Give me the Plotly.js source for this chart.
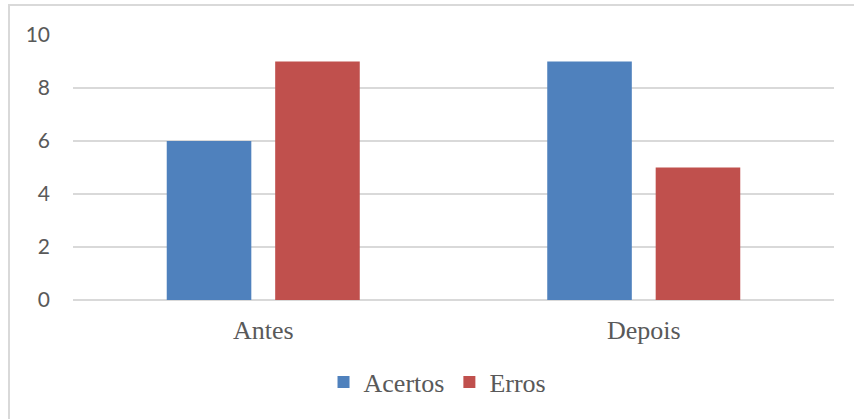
<!DOCTYPE html>
<html><head><meta charset="utf-8">
<script src="https://cdn.plot.ly/plotly-3.0.1.min.js"></script>
<style>
html,body{margin:0;padding:0;background:#fff;}
#wrap{position:absolute;left:0;top:0;width:854px;height:419px;}
#frame{position:absolute;left:8px;top:4px;width:846px;height:415px;border-left:2px solid #D9D9D9;border-top:2px solid #D9D9D9;box-sizing:border-box;pointer-events:none;}
#chart{position:absolute;left:0;top:0;width:854px;height:419px;}
</style></head>
<body>
<div id="wrap"><div id="chart"></div><div id="frame"></div></div>
<script>
const categories = ["Antes", "Depois"];
const acertos = [6, 9];
const erros = [9, 5];
const seriesNames = ["Acertos", "Erros"];
const yTicks = [0, 2, 4, 6, 8, 10];

const traces = [
  {type:"bar", name:seriesNames[0], x:categories, y:acertos, marker:{color:"#4F81BD"}},
  {type:"bar", name:seriesNames[1], x:categories, y:erros, marker:{color:"#C0504D"}}
];
const layout = {
  width:854, height:419,
  margin:{l:73, r:20, t:35, b:119, pad:0},
  paper_bgcolor:"rgba(0,0,0,0)", plot_bgcolor:"#fff",
  barmode:"group", bargap:0.43, bargroupgap:0.22,
  showlegend:true,
  legend:{orientation:"h", x:0.479, xanchor:"center", y:-0.31, yanchor:"middle",
          font:{family:"Liberation Serif, Times New Roman, serif", size:26, color:"#595959"},
          itemwidth:30, tracegroupgap:0, traceorder:"normal"},
  xaxis:{type:"category", showgrid:false, zeroline:false, showline:false, ticks:"",
         tickfont:{family:"Liberation Serif, Times New Roman, serif", size:26, color:"#595959"},
         ticklabelstandoff:12},
  yaxis:{range:[0,10], tickvals:yTicks, ticktext:yTicks.map(String), showgrid:true, gridcolor:"#D9D9D9", gridwidth:1.5,
         zeroline:true, zerolinecolor:"#D9D9D9", zerolinewidth:1.5, showline:false, ticks:"",
         tickfont:{family:"Lato, Open Sans, sans-serif", size:21, color:"#595959"}, ticklabelstandoff:22},
};
Plotly.newPlot("chart", traces, layout, {displayModeBar:false, staticPlot:true});
</script>
</body></html>
